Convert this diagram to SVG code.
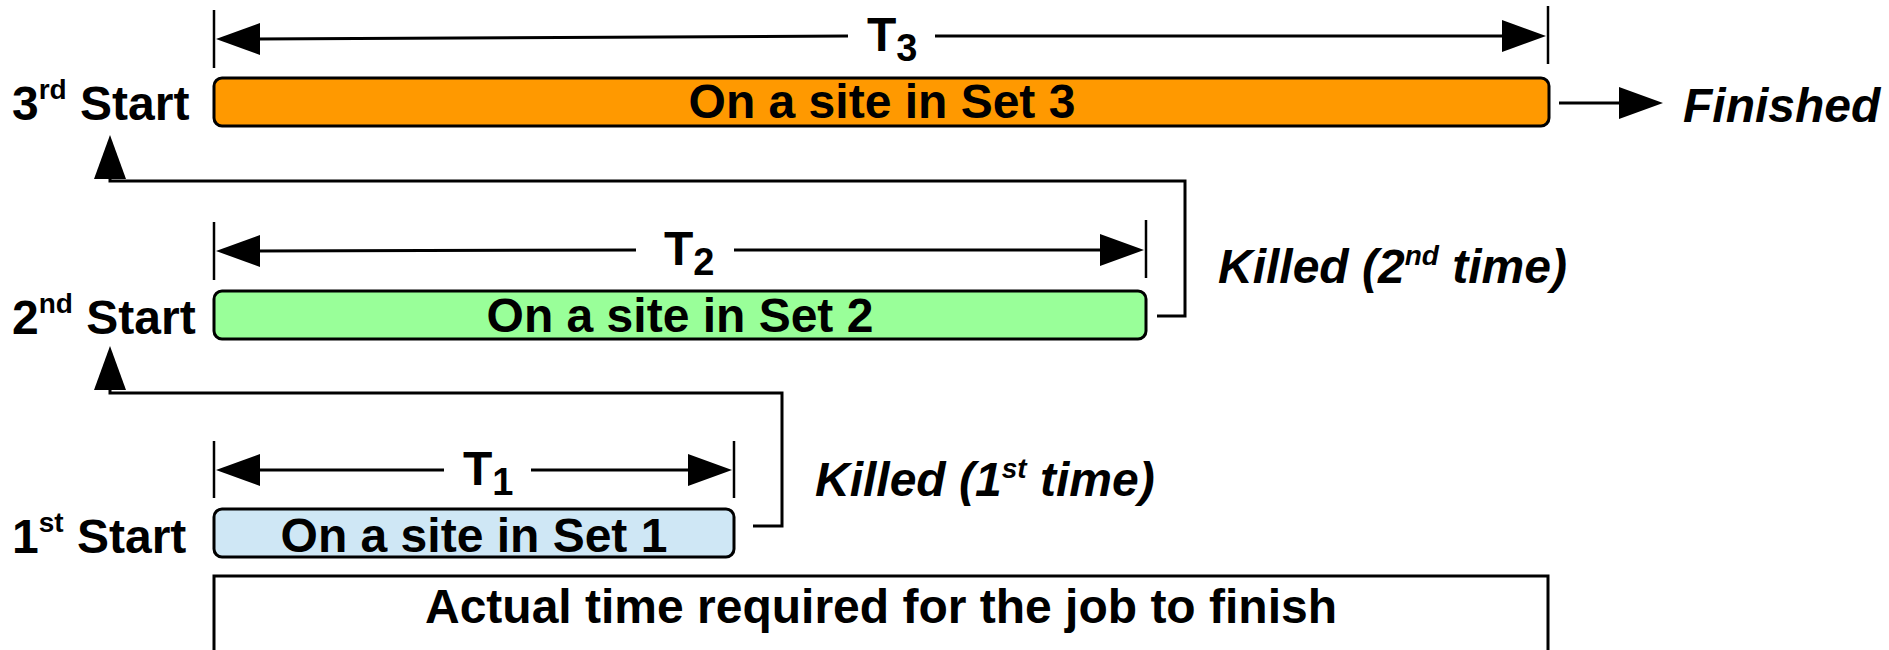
<svg xmlns="http://www.w3.org/2000/svg" xmlns:xlink="http://www.w3.org/1999/xlink" width="1889" height="650" viewBox="0 0 1889 650">
<defs>
<style>
.lbl{font-family:"Liberation Sans",Arial,sans-serif;font-weight:bold;font-size:48px;fill:#000}
.it{font-style:italic}
.bar{stroke:#000;stroke-width:3}
.ln{fill:none;stroke:#000;stroke-width:3}
.tick{stroke:#000;stroke-width:2.5}
</style>
<path id="ahp" d="M0,0 L-44,-16 L-44,16 z" fill="#000"/>
</defs>

<g id="bar3">
<rect class="bar" x="214" y="78" width="1335" height="48" rx="8" fill="#ff9900"/>
<text class="lbl" x="882" y="118" text-anchor="middle">On a site in Set 3</text>
</g>
<g id="bar2">
<rect class="bar" x="214" y="291" width="932" height="48" rx="8" fill="#99ff99"/>
<text class="lbl" x="680" y="332" text-anchor="middle">On a site in Set 2</text>
</g>
<g id="bar1">
<rect class="bar" x="214" y="509" width="520" height="48" rx="8" fill="#cfe7f5"/>
<text class="lbl" x="474" y="552" text-anchor="middle">On a site in Set 1</text>
</g>
<g id="actual">
<path class="ln" d="M214,652 V576 H1548 V652"/>
<text class="lbl" x="881" y="623" text-anchor="middle">Actual time required for the job to finish</text>
</g>

<g id="start3"><text class="lbl" x="12" y="120">3<tspan dy="-21" font-size="28">rd</tspan><tspan dy="21"> Start</tspan></text></g>
<g id="start2"><text class="lbl" x="12" y="334">2<tspan dy="-21" font-size="28">nd</tspan><tspan dy="21"> Start</tspan></text></g>
<g id="start1"><text class="lbl" x="12" y="553">1<tspan dy="-21" font-size="28">st</tspan><tspan dy="21"> Start</tspan></text></g>

<g id="finished"><text class="lbl it" x="1683" y="122">Finished</text></g>
<g id="killed2"><text class="lbl it" x="1218" y="283">Killed (2<tspan dy="-18" font-size="28">nd</tspan><tspan dy="18"> time)</tspan></text></g>
<g id="killed1"><text class="lbl it" x="815" y="496">Killed (1<tspan dy="-18" font-size="28">st</tspan><tspan dy="18"> time)</tspan></text></g>

<g id="dim3">
<line class="tick" x1="214" y1="10" x2="214" y2="68"/>
<line class="tick" x1="1548" y1="6" x2="1548" y2="64"/>
<text class="lbl" x="867" y="51">T<tspan dy="10" font-size="38">3</tspan></text>
</g>
<g id="dim2">
<line class="tick" x1="214" y1="222" x2="214" y2="280"/>
<line class="tick" x1="1146" y1="220" x2="1146" y2="278"/>
<text class="lbl" x="664" y="265">T<tspan dy="10" font-size="38">2</tspan></text>
</g>
<g id="dim1">
<line class="tick" x1="214" y1="441" x2="214" y2="498"/>
<line class="tick" x1="734" y1="441" x2="734" y2="498"/>
<text class="lbl" x="463" y="485">T<tspan dy="10" font-size="38">1</tspan></text>
</g>

<g id="connectors">
<line class="ln" x1="848" y1="36" x2="255" y2="39"/>
<use xlink:href="#ahp" href="#ahp" transform="translate(216,39) rotate(180)"/>
<line class="ln" x1="935" y1="36" x2="1506" y2="36"/>
<use xlink:href="#ahp" href="#ahp" transform="translate(1546,36)"/>
<line class="ln" x1="636" y1="250" x2="255" y2="251"/>
<use xlink:href="#ahp" href="#ahp" transform="translate(216,251) rotate(180)"/>
<line class="ln" x1="734" y1="250" x2="1105" y2="250"/>
<use xlink:href="#ahp" href="#ahp" transform="translate(1144,250)"/>
<line class="ln" x1="444" y1="470" x2="255" y2="470"/>
<use xlink:href="#ahp" href="#ahp" transform="translate(216,470) rotate(180)"/>
<line class="ln" x1="531" y1="470" x2="693" y2="470"/>
<use xlink:href="#ahp" href="#ahp" transform="translate(732,470)"/>
<line class="ln" x1="1559" y1="103" x2="1624" y2="103"/>
<use xlink:href="#ahp" href="#ahp" transform="translate(1663,103)"/>
<path class="ln" d="M1157,316 H1185 V181 H110 V174"/>
<use xlink:href="#ahp" href="#ahp" transform="translate(110,135) rotate(-90)"/>
<path class="ln" d="M753,526 H782 V393 H110 V385"/>
<use xlink:href="#ahp" href="#ahp" transform="translate(110,346) rotate(-90)"/>
</g>
</svg>
